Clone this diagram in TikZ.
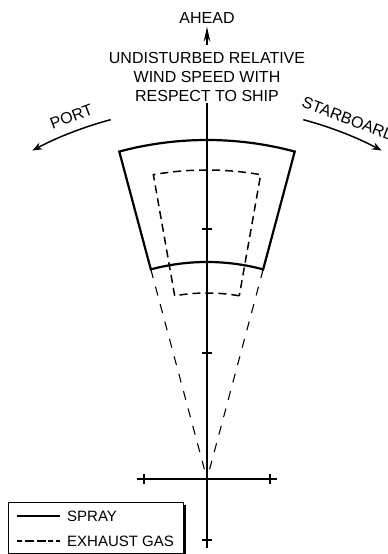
\documentclass[tikz,border=0pt]{standalone}
\usepackage{fontspec}
\setmainfont{Liberation Sans}
\usetikzlibrary{arrows.meta, positioning, calc}

\tikzset{
  lbl/.style={font=\fontsize{16}{19}\selectfont, inner sep=0pt},
  keylbl/.style={font=\fontsize{15}{19}\selectfont, inner sep=0pt},
  sprayline/.style={line width=2.2pt},
  gasline/.style={line width=1.5pt, dash pattern=on 8pt off 5pt},
  gasthin/.style={line width=1.1pt, dash pattern=on 9pt off 9pt},
  axisline/.style={line width=1.4pt},
}

\begin{document}
\begin{tikzpicture}[x=1pt, y=1pt, >=Stealth]
    \useasboundingbox (-207,-75) rectangle (181,479);
    \coordinate (O) at (0,0);
    % heading labels
    \node[lbl] (ahead) at (0,461) {AHEAD};
    \coordinate (aheadbase) at (0,434);
    \draw[-{Stealth[length=15pt, width=6.5pt]}, line width=1.4pt, shorten >=3pt] (aheadbase) -- (ahead.south);
    \node[lbl, align=center] (wind) at (0,402)
      {UNDISTURBED RELATIVE\\WIND SPEED WITH\\RESPECT TO SHIP};
    % axes
    \coordinate (ytop) at (0,376);
    \coordinate (ybot) at (0,-69);
    \coordinate (xl) at (-70,0);
    \coordinate (xr) at (70,0);
    \draw[axisline] (ytop) -- (ybot);
    \draw[axisline] (xl) -- (xr);
    \foreach \y in {250,126,-61}{
      \draw[axisline] (-5,\y) -- (5,\y);
    }
    \foreach \x in {-63,63}{
      \draw[axisline] (\x,-5) -- (\x,5);
    }
    % spray region
    \draw[sprayline, line join=miter] (75:217) arc[start angle=75, end angle=105, radius=217]
      -- (105:339) arc[start angle=105, end angle=75, radius=339] -- cycle;
    % exhaust gas region
    \draw[gasline] (80:186) arc[start angle=80, end angle=100, radius=186]
      -- (100:309) arc[start angle=100, end angle=80, radius=309] -- cycle;
    \coordinate (sl) at (105:217);
    \coordinate (sr) at (75:217);
    \draw[gasthin] (sl) -- (O);
    \draw[gasthin] (sr) -- (O);
    % port / starboard
    \draw[->, line width=1.5pt] (105:372) arc[start angle=105, end angle=118, radius=372];
    \draw[->, line width=1.5pt] (75:372) arc[start angle=75, end angle=62, radius=372];
    \node[lbl, rotate=20.5] (port) at (110.5:387) {PORT};
    \node[lbl, rotate=-21] (stbd) at (68.5:387) {STARBOARD};
    % legend
    \node[draw, line width=1pt, fill=white, minimum width=174pt, minimum height=51pt,
      inner sep=0pt] (legend) at (-111,-48.5) {};
    \draw[line width=2pt] ($(legend.north east)+(1.5,-3)$) -- ($(legend.south east)+(1.5,-1.5)$)
      -- ($(legend.south west)+(3,-1.5)$);
    \node[keylbl, anchor=west] (spray) at (-140,-37) {SPRAY};
    \node[keylbl, anchor=west] (gas) at (-140,-62) {EXHAUST GAS};
    \coordinate (k1) at (-190,-37);
    \coordinate (k1e) at (-147,-37);
    \coordinate (k2) at (-190,-62);
    \coordinate (k2e) at (-147,-62);
    \draw[line width=1.8pt] (k1) -- (k1e);
    \draw[line width=1.3pt, dash pattern=on 5pt off 3pt on 9pt off 3pt on 9pt off 2pt] (k2) -- (k2e);
\end{tikzpicture}
\end{document}
